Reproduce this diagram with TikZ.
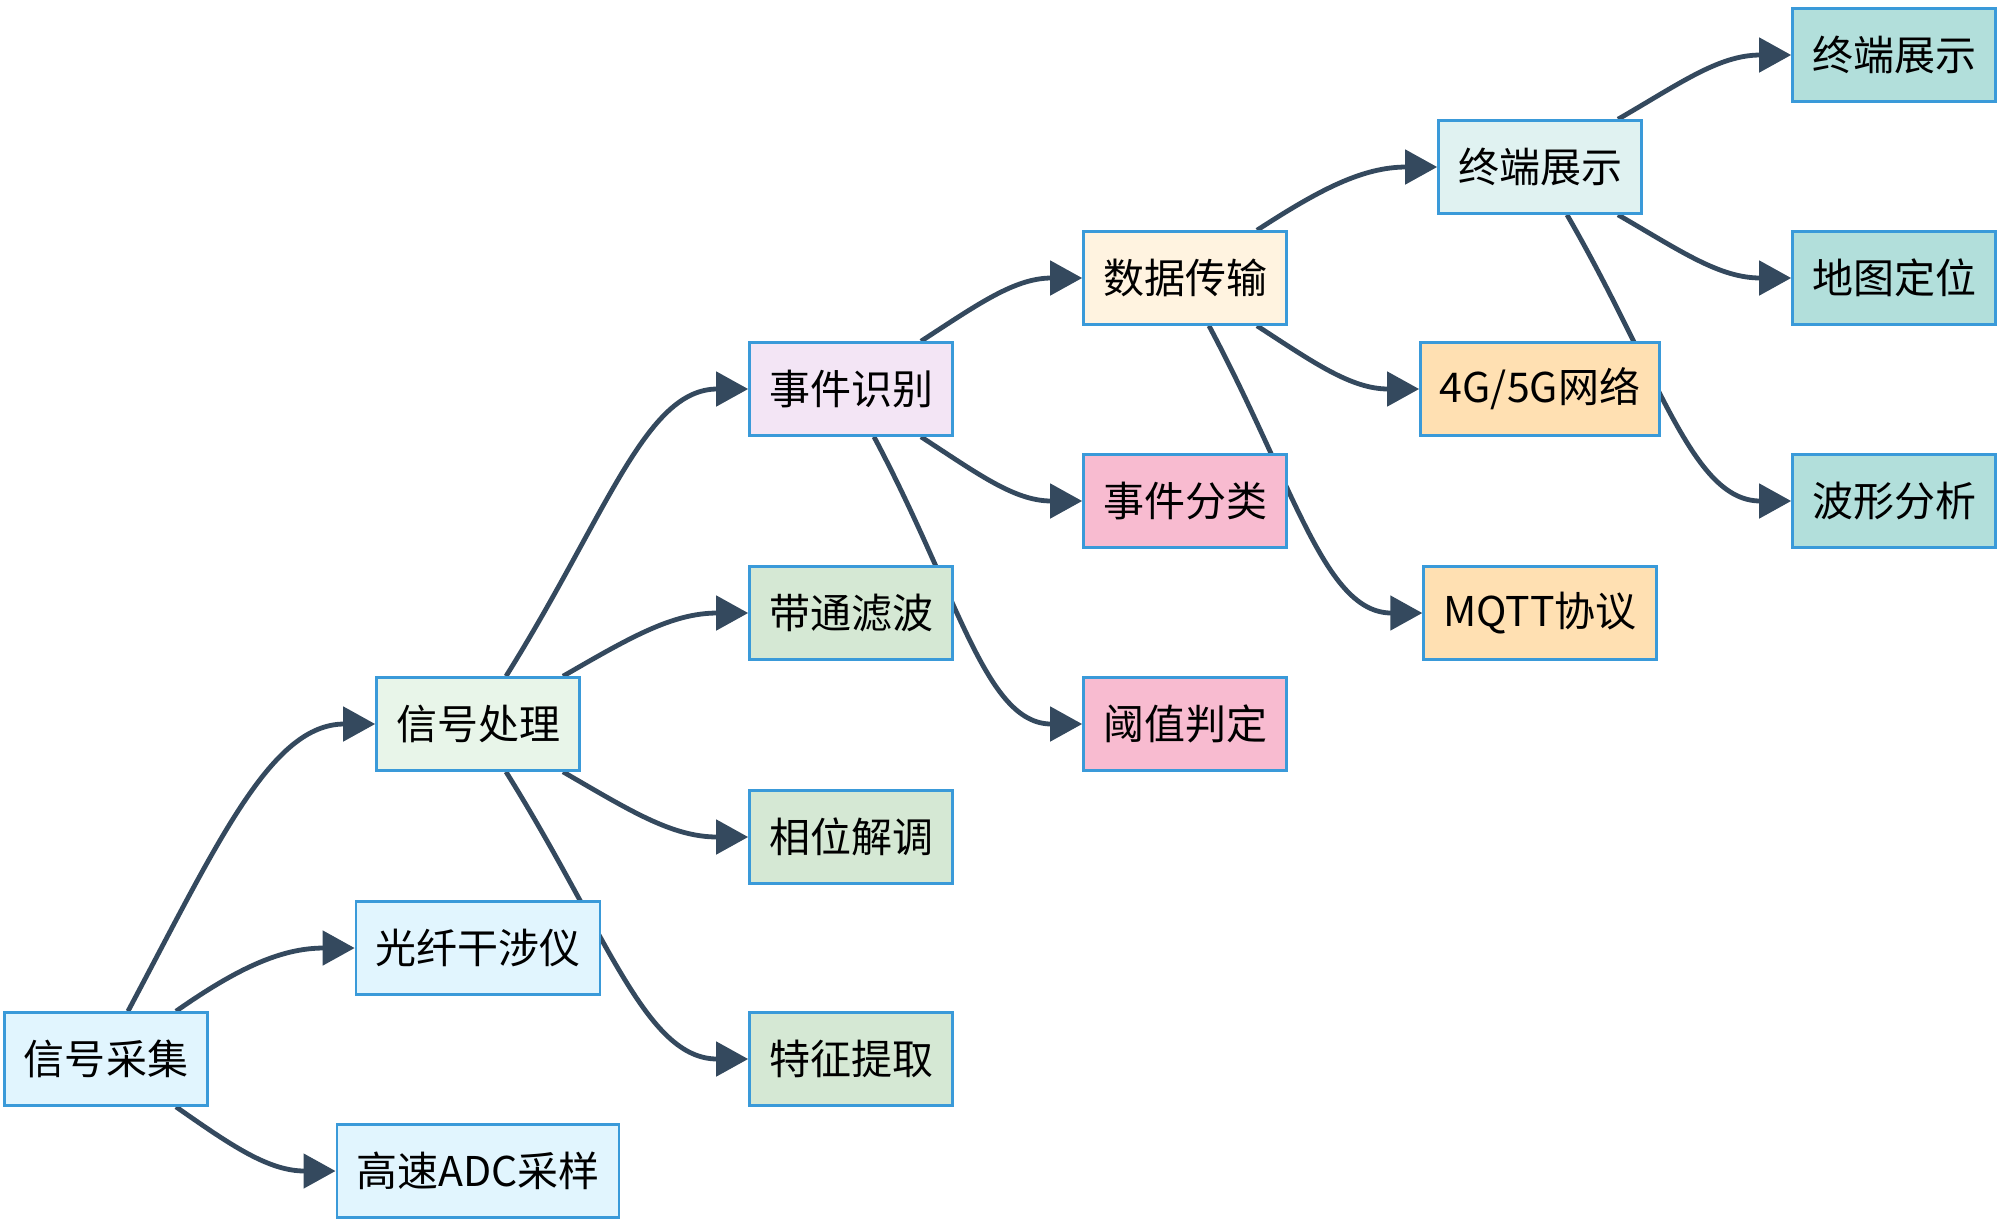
\documentclass[tikz,border=0pt]{standalone}
\usepackage{fontspec}
\setmainfont{Noto Sans CJK SC}
\usepackage{tikz}
\usetikzlibrary{arrows.meta,positioning,calc}
\pgfdeclarelayer{bg}
\pgfsetlayers{bg,main}
\definecolor{boxline}{HTML}{3A9AD9}
\definecolor{linkcol}{HTML}{34495E}
\definecolor{cblue}{HTML}{E1F5FE}
\definecolor{cgreenl}{HTML}{E8F5E9}
\definecolor{cpurple}{HTML}{F3E5F5}
\definecolor{cgreen}{HTML}{D5E8D4}
\definecolor{corangel}{HTML}{FFF3E0}
\definecolor{cpink}{HTML}{F8BBD0}
\definecolor{ctealL}{HTML}{E0F2F1}
\definecolor{corange}{HTML}{FFE0B2}
\definecolor{cteal}{HTML}{B2DFDB}

\begin{document}
\begin{tikzpicture}[x=0.5pt,y=0.5pt,
    box/.style={draw=boxline, line width=1.3pt, minimum height=46.5pt,
      inner xsep=9.75pt, inner ysep=0pt, font=\fontsize{20.5}{24}\selectfont},
    link/.style={draw=linkcol, line width=2.4pt, -{Triangle[length=16pt,width=17pt]}}]
    \useasboundingbox (0,0) rectangle (2000,-1223);

    \node [box, fill=cblue] (caiji) at (106,-1059) {信号采集};
    \node [box, fill=cblue] (gxgsy) at (478,-948) {光纤干涉仪};
    \node [box, fill=cblue] (adc) at (478,-1171) {高速ADC采样};
    \node [box, fill=cgreenl] (chuli) at (478,-724) {信号处理};
    \node [box, fill=cpurple] (shibie) at (851,-389) {事件识别};
    \node [box, fill=cgreen] (lvbo) at (851,-613) {带通滤波};
    \node [box, fill=cgreen] (jietiao) at (851,-837) {相位解调};
    \node [box, fill=cgreen] (tezheng) at (851,-1059) {特征提取};
    \node [box, fill=corangel] (chuanshu) at (1185,-278) {数据传输};
    \node [box, fill=cpink] (fenlei) at (1185,-501) {事件分类};
    \node [box, fill=cpink] (yuzhi) at (1185,-724) {阈值判定};
    \node [box, fill=ctealL] (zhanshi) at (1540,-167) {终端展示};
    \node [box, fill=corange] (wangluo) at (1540,-389) {4G/5G网络};
    \node [box, fill=corange] (mqtt) at (1540,-613) {MQTT协议};
    \node [box, fill=cteal] (zhanshi2) at (1894,-55) {终端展示};
    \node [box, fill=cteal] (ditu) at (1894,-278) {地图定位};
    \node [box, fill=cteal] (boxing) at (1894,-501) {波形分析};

    \begin{pgfonlayer}{bg}    % links behind the boxes
        \draw [link] ($(caiji.north)+(22,0)$) to[out=62,in=180,out looseness=1.3,in looseness=0.7] (chuli.west);
        \draw [link] ($(caiji.north)+(70,0)$) to[out=35,in=180] (gxgsy.west);
        \draw [link] ($(caiji.south)+(70,0)$) to[out=-35,in=180] (adc.west);
        \draw [link] ($(chuli.north)+(28,0)$) to[out=58,in=180,out looseness=1.3,in looseness=0.7] (shibie.west);
        \draw [link] ($(chuli.north)+(85,0)$) to[out=30,in=180] (lvbo.west);
        \draw [link] ($(chuli.south)+(85,0)$) to[out=-30,in=180] (jietiao.west);
        \draw [link] ($(chuli.south)+(28,0)$) to[out=-58,in=180,out looseness=1.3,in looseness=0.7] (tezheng.west);
        \draw [link] ($(shibie.north)+(70,0)$) to[out=33,in=180] (chuanshu.west);
        \draw [link] ($(shibie.south)+(70,0)$) to[out=-33,in=180] (fenlei.west);
        \draw [link] ($(shibie.south)+(23,0)$) to[out=-62,in=180,out looseness=1.3,in looseness=0.7] (yuzhi.west);
        \draw [link] ($(chuanshu.north)+(72,0)$) to[out=33,in=180] (zhanshi.west);
        \draw [link] ($(chuanshu.south)+(72,0)$) to[out=-33,in=180] (wangluo.west);
        \draw [link] ($(chuanshu.south)+(24,0)$) to[out=-62,in=180,out looseness=1.3,in looseness=0.7] (mqtt.west);
        \draw [link] ($(zhanshi.north)+(78,0)$) to[out=30,in=180] (zhanshi2.west);
        \draw [link] ($(zhanshi.south)+(78,0)$) to[out=-30,in=180] (ditu.west);
        \draw [link] ($(zhanshi.south)+(27,0)$) to[out=-60,in=180,out looseness=1.3,in looseness=0.7] (boxing.west);
    \end{pgfonlayer}
\end{tikzpicture}
\end{document}
